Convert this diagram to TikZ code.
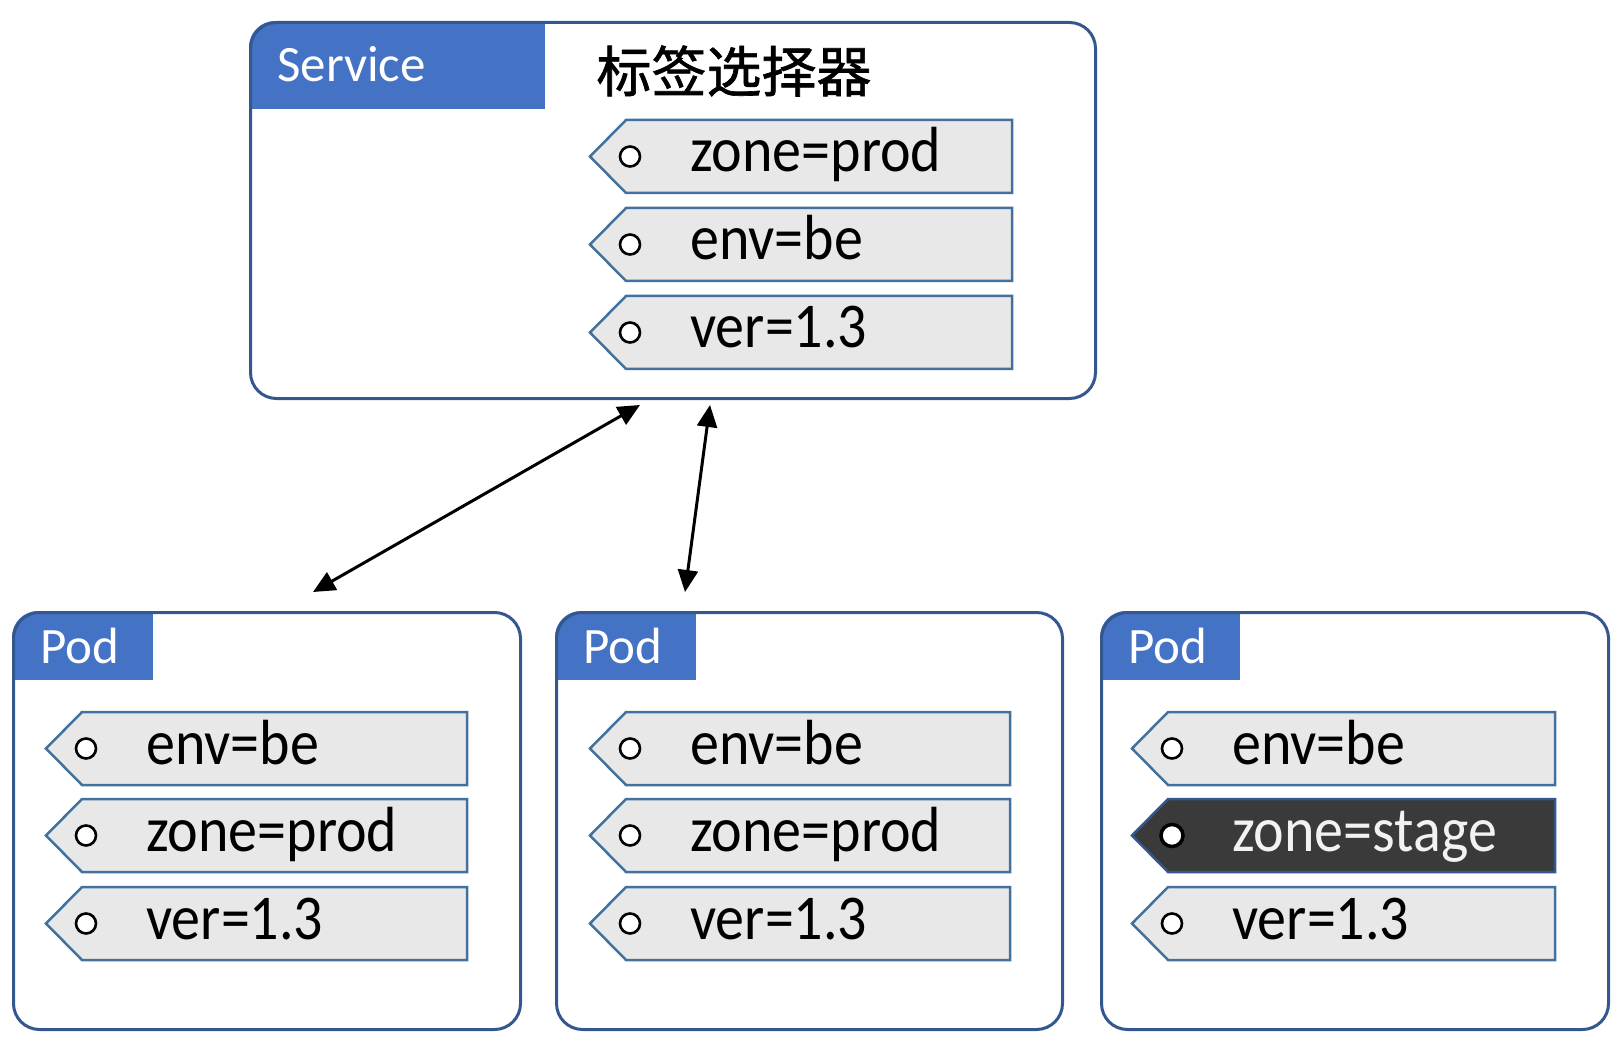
\documentclass[tikz,border=0pt]{standalone}
\usepackage{fontspec}
\setmainfont{Carlito}
\newfontfamily\cjk[FakeBold=1.2]{Noto Sans CJK SC}
\usetikzlibrary{arrows.meta}
\definecolor{hdrblue}{HTML}{4472C4}
\definecolor{boxline}{HTML}{34578F}
\definecolor{tagline}{HTML}{41719C}
\definecolor{tagfill}{HTML}{E8E8E8}
\definecolor{darkfill}{HTML}{3A3A3A}
\newcommand\tagfont{\fontsize{58}{60}\selectfont}
\newcommand\hdrfont{\fontsize{51}{54}\selectfont}
\newcommand\lbltag[6]{%
  \draw[#1tag] (#3,#4+36.5) -- (#3+36,#4) -- (#5,#4) -- (#5,#4+73) -- (#3+36,#4+73) -- cycle;
  \node[#1dot] (#2-dot) at (#3+40,#4+36.5) {};
  \node[#1txt] (#2) at (#3+100,#4+52) {\scalebox{1}[1.1]{#6}};
}
\tikzset{
  outerbox/.style={draw=boxline, line width=3pt, rounded corners=26pt, anchor=north west, inner sep=0pt},
  hdrbox/.style={fill=hdrblue, anchor=north west, inner sep=0pt},
  hdrtxt/.style={anchor=base west, inner sep=0pt, text=white, font=\hdrfont},
  ltag/.style={draw=tagline, fill=tagfill, line width=2.5pt, line join=miter},
  dtag/.style={draw=boxline, fill=darkfill, line width=2.5pt, line join=miter},
  ldot/.style={circle, draw=black, fill=white, line width=2.6pt, minimum size=20pt, inner sep=0pt},
  ddot/.style={circle, draw=black, fill=white, line width=3.5pt, minimum size=22pt, inner sep=0pt},
  ltxt/.style={anchor=base west, inner sep=0pt, text=black, font=\tagfont},
  dtxt/.style={anchor=base west, inner sep=0pt, text=white!95!black, font=\tagfont},
  conn/.style={line width=3pt, {Triangle[length=22pt,width=20pt]}-{Triangle[length=22pt,width=20pt]}}
}
\begin{document}
\begin{tikzpicture}[x=1pt, y=-1pt]
\useasboundingbox (0,0) rectangle (1622,1048);

% headers (clipped to rounded boxes)
\begin{scope}
  \clip[rounded corners=26pt] (249,21) rectangle (1094,397);
  \node[hdrbox, minimum width=296pt, minimum height=88pt] (svchdr) at (249,21) {};
\end{scope}
\begin{scope}
  \clip[rounded corners=26pt] (12,611) rectangle (519,1028);
  \node[hdrbox, minimum width=141pt, minimum height=69pt] (p1hdr) at (12,611) {};
\end{scope}
\begin{scope}
  \clip[rounded corners=26pt] (555,611) rectangle (1061,1028);
  \node[hdrbox, minimum width=141pt, minimum height=69pt] (p2hdr) at (555,611) {};
\end{scope}
\begin{scope}
  \clip[rounded corners=26pt] (1100,611) rectangle (1607,1028);
  \node[hdrbox, minimum width=140pt, minimum height=69pt] (p3hdr) at (1100,611) {};
\end{scope}

% outer boxes
\node[outerbox, minimum width=845pt, minimum height=376pt] (svc) at (249,21) {};
\node[outerbox, minimum width=507pt, minimum height=417pt] (pod1) at (12,611) {};
\node[outerbox, minimum width=506pt, minimum height=417pt] (pod2) at (555,611) {};
\node[outerbox, minimum width=507pt, minimum height=417pt] (pod3) at (1100,611) {};

% header labels
\node[hdrtxt] (svclbl) at (277,82) {Service};
\node[hdrtxt] (p1lbl) at (40,663) {Pod};
\node[hdrtxt] (p2lbl) at (583,663) {Pod};
\node[hdrtxt] (p3lbl) at (1128,663) {Pod};

\node[inner sep=0pt, font=\cjk\fontsize{55}{58}\selectfont] (sel) at (734,71) {标签选择器};

% service selector tags
\lbltag{l}{s1}{590}{120}{1012}{zone=prod}
\lbltag{l}{s2}{590}{208}{1012}{env=be}
\lbltag{l}{s3}{590}{296}{1012}{ver=1.3}

% pod 1 tags
\lbltag{l}{a1}{46}{712}{467}{env=be}
\lbltag{l}{a2}{46}{799}{467}{zone=prod}
\lbltag{l}{a3}{46}{887}{467}{ver=1.3}

% pod 2 tags
\lbltag{l}{b1}{590}{712}{1010}{env=be}
\lbltag{l}{b2}{590}{799}{1010}{zone=prod}
\lbltag{l}{b3}{590}{887}{1010}{ver=1.3}

% pod 3 tags
\lbltag{l}{c1}{1132}{712}{1555}{env=be}
\lbltag{d}{c2}{1132}{799}{1555}{zone=stage}
\lbltag{l}{c3}{1132}{887}{1555}{ver=1.3}

% connectors
\coordinate (e1t) at (640,405);
\coordinate (e1b) at (313,592);
\coordinate (e2t) at (710,405);
\coordinate (e2b) at (685,592);
\draw[conn] (e1t) -- (e1b);
\draw[conn] (e2t) -- (e2b);
\end{tikzpicture}
\end{document}
